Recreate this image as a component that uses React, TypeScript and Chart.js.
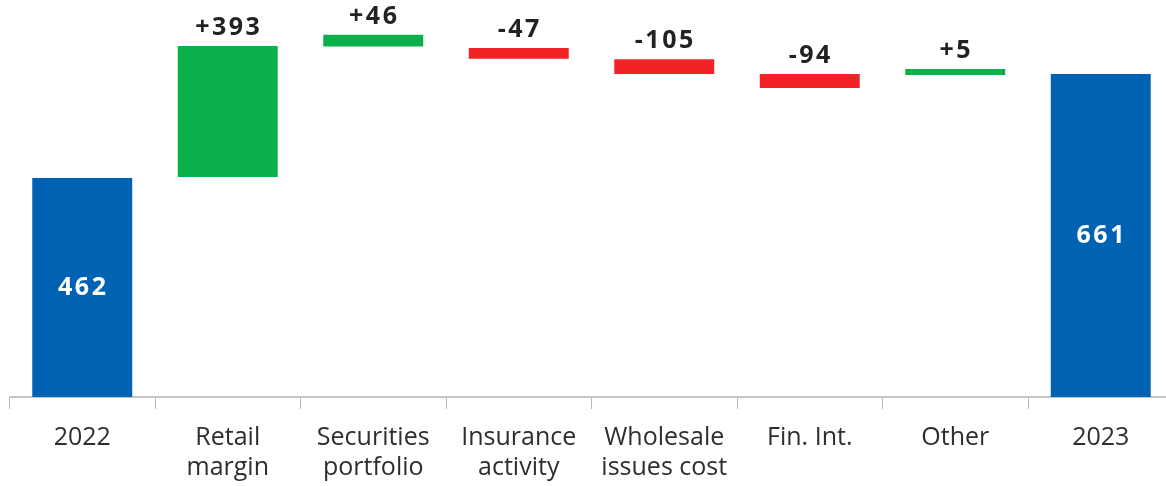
import React, { useEffect, useRef } from "react";
import { Chart, registerables } from "chart.js";

Chart.register(...registerables);

// Category tick labels (multi-line)
const categories: string[][] = [
  ["2022"],
  ["Retail", "margin"],
  ["Securities", "portfolio"],
  ["Insurance", "activity"],
  ["Wholesale", "issues cost"],
  ["Fin. Int."],
  ["Other"],
  ["2023"],
];

// Bar extents as drawn in the picture (the source chart is not drawn to scale)
const barStart = [0, 450, 717, 692, 661, 632, 659, 0];
const barEnd = [448, 718, 741, 714, 691, 661, 671, 661];

// Value labels shown on the chart
const valueLabels = ["462", "+393", "+46", "-47", "-105", "-94", "+5", "661"];

// Bar kinds
const barKinds = ["total", "up", "up", "down", "down", "down", "up", "total"];

const kindColors: Record<string, string> = {
  total: "#0062B2",
  up: "#0AB14B",
  down: "#F12326",
};

const labelPlugin = {
  id: "valueLabels",
  afterDatasetsDraw(chart: any) {
    const ctx = chart.ctx as CanvasRenderingContext2D;
    const meta = chart.getDatasetMeta(0);
    ctx.save();
    ctx.font = 'bold 25px "Open Sans"';
    (ctx as any).letterSpacing = "2.5px";
    ctx.textAlign = "center";
    meta.data.forEach((el: any, i: number) => {
      const top = Math.min(el.y, el.base);
      const bottom = Math.max(el.y, el.base);
      if (barKinds[i] === "total") {
        ctx.fillStyle = "#ffffff";
        ctx.textBaseline = "middle";
        ctx.fillText(valueLabels[i], el.x + 1, (top + bottom) / 2);
      } else {
        ctx.fillStyle = "#222222";
        ctx.textBaseline = "alphabetic";
        ctx.fillText(valueLabels[i], el.x + 1, top - 11);
      }
    });
    ctx.restore();
  },
};

export default function App() {
  const canvasRef = useRef<HTMLCanvasElement | null>(null);

  useEffect(() => {
    if (!canvasRef.current) return;
    const chart = new Chart(canvasRef.current, {
      type: "bar",
      data: {
        labels: categories,
        datasets: [
          {
            data: barStart.map((s, i) => [s, barEnd[i]]) as any,
            backgroundColor: barKinds.map((k) => kindColors[k]),
            borderWidth: 0,
            barPercentage: 0.687,
            categoryPercentage: 1,
          },
        ],
      },
      options: {
        responsive: false,
        animation: false,
        layout: { padding: { top: 6, left: 9.5, right: 6.5, bottom: 0 } },
        plugins: {
          legend: { display: false },
          tooltip: { enabled: false },
        },
        scales: {
          x: {
            offset: true,
            grid: {
              display: true,
              offset: true,
              drawOnChartArea: false,
              drawTicks: true,
              tickLength: 12,
              color: "#b8b8b8",
              lineWidth: 1,
            },
            border: { display: true, color: "#c6c6c6", width: 2 },
            ticks: {
              color: "#2e2e2e",
              font: { family: "Open Sans", size: 25, lineHeight: 1.2 },
              padding: 14,
              maxRotation: 0,
              autoSkip: false,
            },
            afterFit: (s: any) => {
              s.height = 89;
            },
          },
          y: {
            display: false,
            min: 0,
            max: 800,
          },
        },
      },
      plugins: [labelPlugin],
    });
    return () => chart.destroy();
  }, []);

  return (
    <>
      <style>{`html,body{margin:0;padding:0;overflow:hidden;background:#fff}`}</style>
      <div style={{ position: "absolute", left: 0, top: 0, width: 1180, height: 486 }}>
        <canvas ref={canvasRef} width={1180} height={486} />
      </div>
    </>
  );
}
